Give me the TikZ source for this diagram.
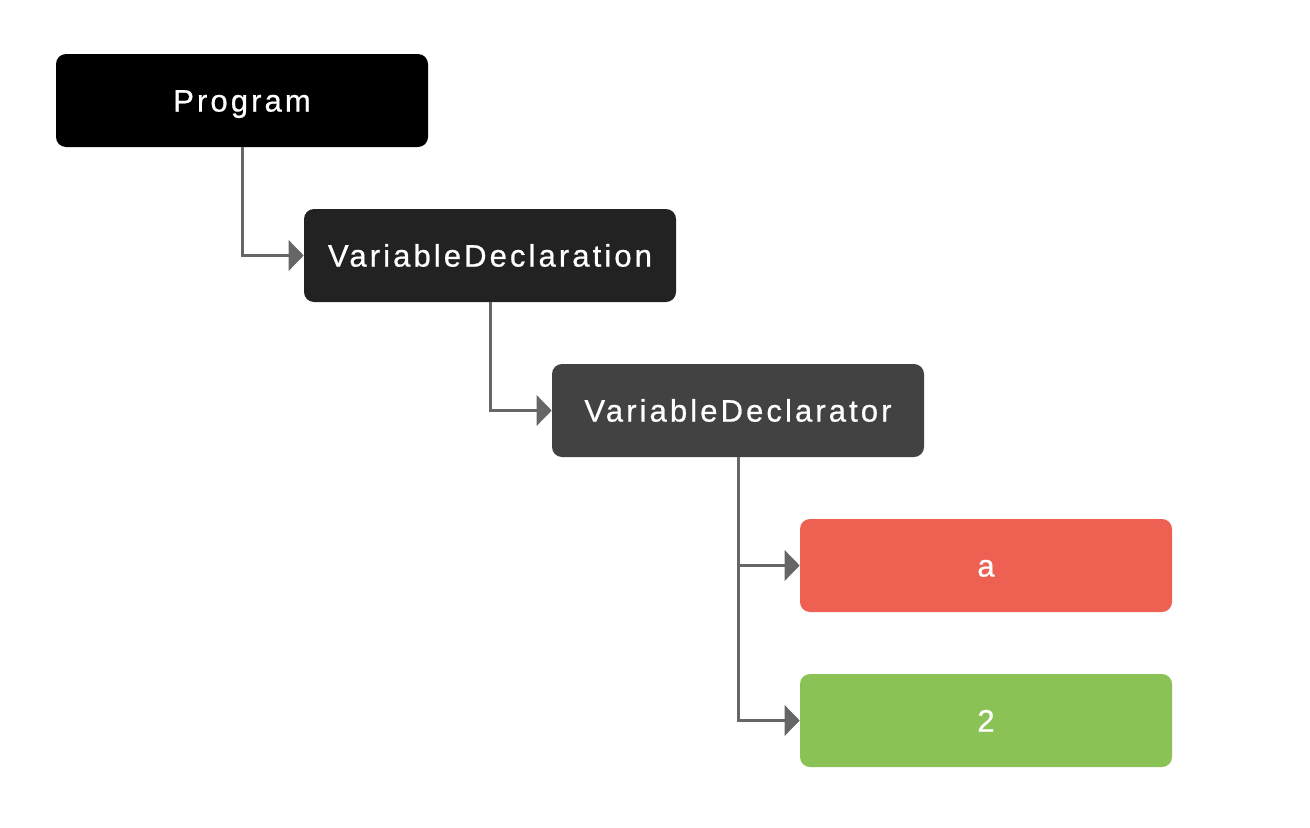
\documentclass[tikz,border=0pt]{standalone}
\usepackage{fontspec}
\setmainfont{Liberation Sans}[LetterSpace=10,FakeBold=0.7]
\usetikzlibrary{arrows.meta}
\definecolor{c0}{HTML}{000000}
\definecolor{c1}{HTML}{222222}
\definecolor{c2}{HTML}{424242}
\definecolor{cred}{HTML}{EE6152}
\definecolor{cgreen}{HTML}{8BC255}
\definecolor{cline}{HTML}{666666}
\begin{document}
\begin{tikzpicture}[x=0.75pt,y=-0.75pt,
  box/.style={rounded corners=7.5pt, minimum width=279pt, minimum height=69.75pt, inner sep=0pt,
    text height=16.6pt, text depth=0pt,
    text=white, font=\fontsize{23.25pt}{28pt}\selectfont},
  conn/.style={draw=cline, line width=2.25pt, -{Triangle[length=11.25pt,width=22.5pt]}}]
\useasboundingbox (0,0) rectangle (1310,828);
\node[box, fill=c0] (prog) at (242,100.5) {Program};
\node[box, fill=c1] (vd) at (490,255.5) {VariableDeclaration};
\node[box, fill=c2] (vdr) at (738,410.5) {VariableDeclarator};
\node[box, fill=cred] (a) at (986,565.5) {a};
\node[box, fill=cgreen] (two) at (986,720.5) {2};
\draw[conn] (prog.south) |- (vd.west);
\draw[conn] (vd.south) |- (vdr.west);
\draw[conn] (vdr.south) |- (a.west);
\draw[conn] (vdr.south) |- (two.west);
\end{tikzpicture}
\end{document}
